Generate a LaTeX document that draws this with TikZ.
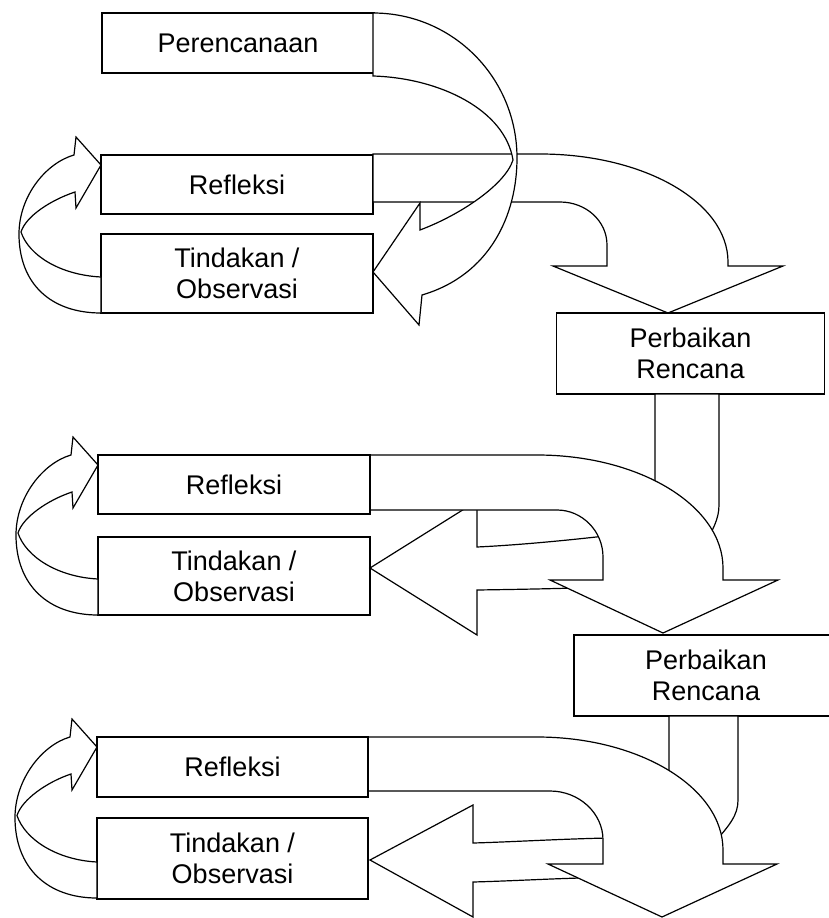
\documentclass[tikz,border=0pt]{standalone}
\usepackage{fontspec}
\setmainfont{Liberation Sans}
\newcommand{\cycleloop}[3]{%
 \pgfmathsetmacro{\Lx}{#1}\pgfmathsetmacro{\Ty}{#2}\pgfmathsetmacro{\By}{#3}\pgfmathsetmacro{\My}{(#2+#3)/2}%
 \draw[blockarrow] (\Lx,\By) .. controls ({\Lx-50},\By) and ({\Lx-82},{\My+50}) .. ({\Lx-82},\My)
 .. controls ({\Lx-82},{\My-38}) and ({\Lx-55},{\Ty+8}) .. ({\Lx-27},\Ty)
 -- ({\Lx-25},{\Ty-18}) -- (\Lx,{\Ty+10}) -- ({\Lx-25},{\Ty+53}) -- ({\Lx-26},{\Ty+37})
 .. controls ({\Lx-50},{\Ty+45}) and ({\Lx-75},{\My-18}) .. ({\Lx-80},{\My-2})
 .. controls ({\Lx-72},{\My+22}) and ({\Lx-40},{\By-38}) .. (\Lx,{\By-36}) -- cycle;}
\begin{document}
\begin{tikzpicture}[x=1pt,y=-1pt,line width=1.2pt,
  box/.style={draw, rectangle, inner sep=0pt, outer sep=0pt, align=center,
    font=\fontsize{27}{31}\selectfont},
  blockarrow/.style={draw, fill=white, line join=miter}]
\useasboundingbox (0,0) rectangle (829,918);

% ---------- cycle 1 ----------
\node[box, minimum width=272pt, minimum height=60pt] (plan) at (238,43) {Perencanaan};
\node[box, minimum width=272pt, minimum height=59pt] (ref1) at (237,184.5) {Refleksi};
\node[box, minimum width=272pt, minimum height=79pt] (act1) at (237,273.5) {Tindakan /\\Observasi};
% Refleksi 1 -> Perbaikan 1
\draw[blockarrow] (373,154) -- (540,154) .. controls (644,154) and (728,202) .. (728,262)
  -- (728,266) -- (783,266) -- (668,313) -- (553,266) -- (607,266) -- (607,245)
  .. controls (607,221) and (586,202) .. (560,202) -- (373,202) -- cycle;
% Perencanaan -> Tindakan 1
\draw[blockarrow] (373,13) .. controls (453,13) and (517,78) .. (517,158)
  .. controls (517,215) and (490,275) .. (422,295) -- (419,325) -- (373,272) -- (420,203)
  -- (420,230) .. controls (460,215) and (505,185) .. (513,160)
  .. controls (505,110) and (440,78) .. (373,76) -- cycle;
\cycleloop{101}{155}{313}
\node[box, minimum width=268pt, minimum height=81pt] (fix1) at (690.5,353.5) {Perbaikan\\Rencana};

% ---------- cycle 2 ----------
% Perbaikan 1 -> Tindakan 2
\draw[blockarrow] (655,394) -- (655,490) -- (640,520) -- (605,536)
  .. controls (570,540) and (520,545) .. (477,547) -- (477,501) -- (370,568) -- (477,635)
  -- (477,590) .. controls (510,589.5) and (540,589) .. (575,588) -- (663,600) -- (705,575)
  -- (705,545) .. controls (712,530) and (719,520) .. (719,505) -- (719,394) -- cycle;
% Refleksi 2 -> Perbaikan 2
\draw[blockarrow] (370,455) -- (537,455) .. controls (640,455) and (723,506) .. (723,568)
  -- (723,580) -- (778,580) -- (663,633) -- (550,580) -- (603,580) -- (603,557)
  .. controls (603,531) and (582,510) .. (557,510) -- (370,510) -- cycle;
\node[box, minimum width=272pt, minimum height=59pt] (ref2) at (234,484.5) {Refleksi};
\node[box, minimum width=272pt, minimum height=78pt] (act2) at (234,576) {Tindakan /\\Observasi};
\cycleloop{98}{455}{615}
\node[box, minimum width=264pt, minimum height=81pt] (fix2) at (706,675.5) {Perbaikan\\Rencana};

% ---------- cycle 3 ----------
% Perbaikan 2 -> Tindakan 3
\draw[blockarrow] (669,716) -- (669,785) -- (650,825) -- (608,838)
  .. controls (560,839) and (510,842) .. (473,843) -- (473,805) -- (370,860) -- (473,917)
  -- (473,882) .. controls (510,881) and (545,879) .. (580,878) -- (662,892) -- (712,870)
  -- (712,845) .. controls (730,825) and (738,815) .. (738,800) -- (738,716) -- cycle;
% Refleksi 3 -> (down)
\draw[blockarrow] (368,737) -- (537,737) .. controls (640,737) and (723,788) .. (723,850)
  -- (723,864) -- (777,864) -- (662,917) -- (548,864) -- (603,864) -- (603,840)
  .. controls (603,813) and (579,791) .. (550,791) -- (368,791) -- cycle;
\node[box, minimum width=271pt, minimum height=60pt] (ref3) at (232.5,767) {Refleksi};
\node[box, minimum width=271pt, minimum height=81pt] (act3) at (232.5,858.5) {Tindakan /\\Observasi};
\cycleloop{97}{737}{898}
\end{tikzpicture}
\end{document}
